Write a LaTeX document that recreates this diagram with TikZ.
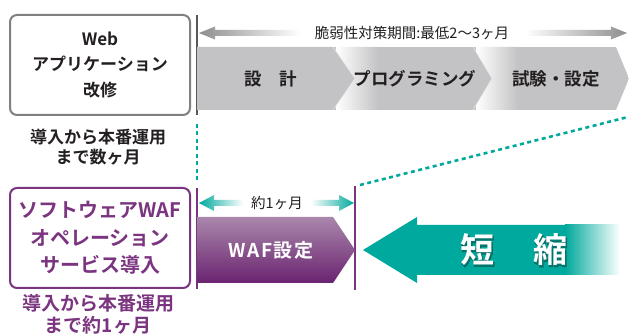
\documentclass[tikz,border=0pt]{standalone}
\usepackage{fontspec}
\newfontfamily\jp{Noto Sans CJK JP}[BoldFont={Noto Sans CJK JP Bold}]
\usetikzlibrary{calc}
\definecolor{tealA}{HTML}{00A99D}
\definecolor{tealD}{HTML}{0A5A54}
\definecolor{purp}{HTML}{7B3580}
\definecolor{purpL}{HTML}{A987AB}
\definecolor{purpD}{HTML}{6A2370}
\definecolor{chev}{HTML}{C3C3C5}
\definecolor{txt}{HTML}{231F20}
\definecolor{boxg}{HTML}{808080}
\definecolor{arrg}{HTML}{8E8E90}
\begin{document}
\begin{tikzpicture}[x=1pt,y=-1pt,
  jtext/.style={inner sep=0pt, align=center, text=txt},
  bigbox/.style={rounded corners=7pt, line width=2pt, minimum width=180pt, minimum height=100pt, inner sep=0pt, align=center},
  chevtext/.style={jtext, font={\jp\bfseries\fontsize{17.5}{20}\selectfont}},
  smalltext/.style={jtext, font={\jp\fontsize{14.5}{16}\selectfont}},
  bigchar/.style={inner sep=0pt, font={\jp\bfseries\fontsize{34}{36}\selectfont}},
  dashline/.style={draw=tealA, line width=2.6pt, dash pattern=on 4pt off 3.5pt},
  vline/.style={line width=1.2pt}]
\fill[white] (0,0) rectangle (629,336);
\useasboundingbox (0,0) rectangle (629,336);

% ---------- top: Web application box
\node[bigbox, draw=boxg, text=txt, font={\jp\bfseries\fontsize{17}{25.5}\selectfont}] (webbox) at (100,65) {Web\\アプリケーション\\改修};
\node[jtext, font={\jp\bfseries\fontsize{17}{20}\selectfont}] (weblbl) at (98,147) {導入から本番運用\\まで数ヶ月};

% vertical gray line
\coordinate (gtop) at (197,15);
\coordinate (gbot) at (197,115);
\draw[draw=txt!75, vline] (gtop) -- (gbot);

% top gray double arrow
\shade[left color=arrg, right color=white]
  (199,33) -- (215,26.5) -- (215,30) -- (300,30) -- (300,36) -- (215,36) -- (215,39.5) -- cycle;
\shade[left color=white, right color=arrg]
  (627,33) -- (611,26.5) -- (611,30) -- (525,30) -- (525,36) -- (611,36) -- (611,39.5) -- cycle;
\node[smalltext] (period) at (412,33) {脆弱性対策期間:最低2～3ヶ月};

% chevrons
\fill[chev] (197,47) -- (333,47) -- (355,78.5) -- (333,110) -- (197,110) -- cycle;
\begin{scope}
  \clip (333,47) -- (473,47) -- (492,78.5) -- (473,110) -- (333,110) -- (355,78.5) -- cycle;
  \fill[chev] (333,47) rectangle (495,110);
  \shade[left color=white, right color=chev] (336,47) rectangle (378,110);
\end{scope}
\begin{scope}
  \clip (473,47) -- (616,47) -- (629,78.5) -- (616,110) -- (473,110) -- (492,78.5) -- cycle;
  \fill[chev] (473,47) rectangle (630,110);
  \shade[left color=white, right color=chev] (476,47) rectangle (518,110);
\end{scope}
\draw[white!80!gray, line width=0.6pt] (333,47) -- (355,78.5) -- (333,110);
\draw[white!80!gray, line width=0.6pt] (473,47) -- (492,78.5) -- (473,110);
\node[chevtext] (design) at (271,78.5) {設　計};
\node[chevtext] (prog) at (415,78.5) {プログラミング};
\node[chevtext] (test) at (556,78.5) {試験・設定};

% dashed teal lines
\coordinate (d1a) at (197,124);
\coordinate (d1b) at (197,183);
\coordinate (d2a) at (360,185);
\coordinate (d2b) at (628,117);
\draw[dashline] (d1a) -- (d1b);
\draw[dashline] (d2a) -- (d2b);

% ---------- bottom: WAF box
\node[bigbox, draw=purp, text=purp, font={\jp\bfseries\fontsize{20}{27.5}\selectfont}] (wafbox) at (100,238) {ソフトウェアWAF\\オペレーション\\サービス導入};
\node[jtext, text=purp, font={\jp\bfseries\fontsize{19}{22}\selectfont}] (waflbl) at (98,314) {導入から本番運用\\まで約1ヶ月};

% purple vertical lines
\coordinate (p1a) at (197,188);
\coordinate (p1b) at (197,289);
\coordinate (p2a) at (355,186);
\coordinate (p2b) at (355,290);
\draw[draw=purp, vline] (p1a) -- (p1b);
\draw[draw=purp, vline] (p2a) -- (p2b);

% teal double arrow
\shade[left color=tealA, right color=white]
  (199,203) -- (214,195) -- (214,200) -- (243,200) -- (243,206) -- (214,206) -- (214,211) -- cycle;
\shade[left color=white, right color=tealA]
  (354,203) -- (339,195) -- (339,200) -- (311,200) -- (311,206) -- (339,206) -- (339,211) -- cycle;
\node[smalltext] (month) at (277,203) {約1ヶ月};

% WAF chevron
\shade[top color=purpL, bottom color=purpD]
  (197,217) -- (333,217) -- (355,250) -- (333,283) -- (197,283) -- cycle;
\node[jtext, text=white, font={\jp\bfseries\fontsize{19}{20}\selectfont}] (wafset) at (271,250) {\addfontfeatures{LetterSpace=8}WAF設定};

% big teal arrow
\fill[tealA] (363,250) -- (417,217) -- (417,225) -- (566,225) -- (566,275) -- (417,275) -- (417,283) -- cycle;
\shade[left color=tealA, right color=white] (565,225) rectangle (620,275);
\node[bigchar, text=tealD, opacity=0.6] (sh1) at (478,251) {\addfontfeatures{FakeBold=3}短};
\node[bigchar, text=tealD, opacity=0.6] (sh2) at (551,251) {\addfontfeatures{FakeBold=3}縮};
\node[bigchar, text=white] (short1) at (477,250) {短};
\node[bigchar, text=white] (short2) at (550,250) {縮};
\end{tikzpicture}
\end{document}
